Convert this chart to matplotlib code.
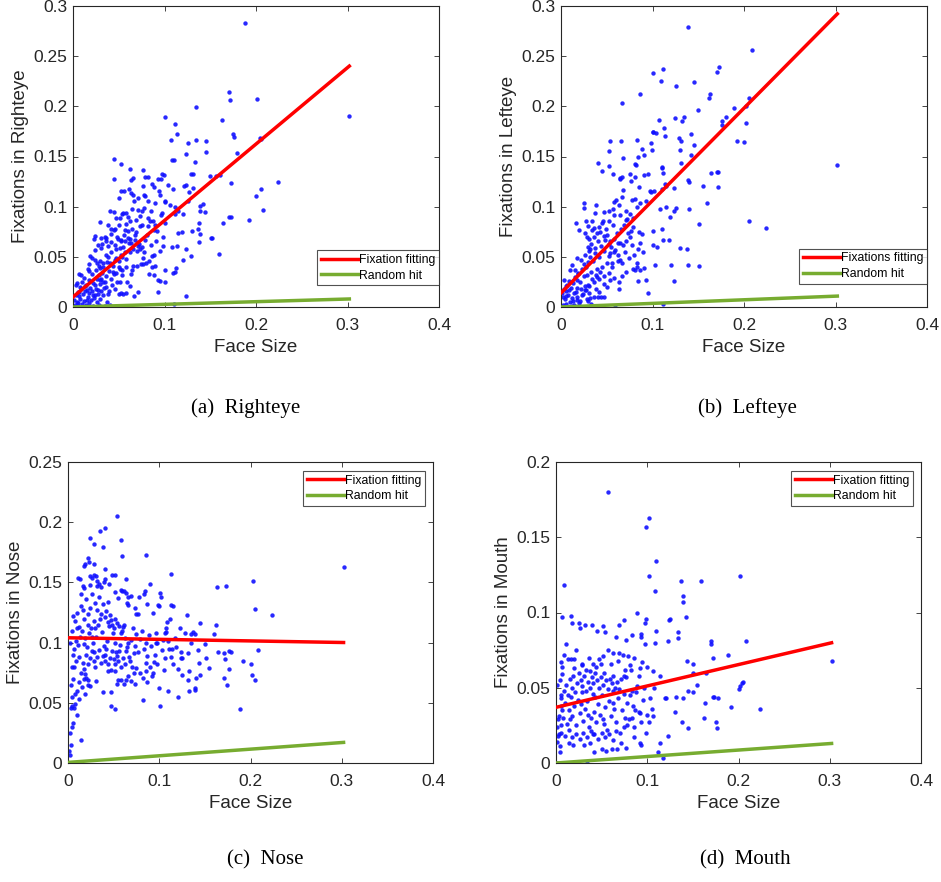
import numpy as np
import matplotlib.pyplot as plt
from matplotlib.ticker import FuncFormatter

# Fixation share per face region vs. face size (one dot per image)
righteye_pts = np.array([
    (0.188, 0.283), (0.302, 0.190), (0.170, 0.214), (0.172, 0.206), (0.201, 0.207), (0.134, 0.199),
    (0.101, 0.189), (0.112, 0.182), (0.114, 0.172), (0.163, 0.186), (0.175, 0.172), (0.176, 0.169),
    (0.179, 0.153), (0.204, 0.168), (0.205, 0.167), (0.224, 0.125), (0.173, 0.124), (0.205, 0.118),
    (0.200, 0.111), (0.208, 0.097), (0.192, 0.087), (0.170, 0.090), (0.173, 0.090), (0.164, 0.084),
    (0.160, 0.053), (0.123, 0.011), (0.110, 0.003), (0.107, 0.166), (0.108, 0.147), (0.110, 0.147),
    (0.124, 0.152), (0.126, 0.163), (0.134, 0.166), (0.145, 0.165), (0.145, 0.154), (0.133, 0.145),
    (0.129, 0.133), (0.131, 0.133), (0.150, 0.131), (0.156, 0.131), (0.161, 0.132), (0.121, 0.121),
    (0.124, 0.122), (0.127, 0.115), (0.131, 0.119), (0.126, 0.106), (0.142, 0.103), (0.139, 0.101),
    (0.139, 0.096), (0.144, 0.095), (0.138, 0.084), (0.137, 0.078), (0.139, 0.073), (0.138, 0.065),
    (0.130, 0.076), (0.119, 0.075), (0.115, 0.074), (0.114, 0.061), (0.123, 0.058), (0.129, 0.051),
    (0.151, 0.069), (0.152, 0.069), (0.120, 0.047), (0.113, 0.039), (0.109, 0.034), (0.111, 0.035),
    (0.100, 0.037), (0.101, 0.025), (0.093, 0.015), (0.095, 0.026), (0.108, 0.060), (0.098, 0.061),
    (0.098, 0.070), (0.092, 0.076), (0.101, 0.084), (0.097, 0.094), (0.096, 0.092), (0.101, 0.106),
    (0.101, 0.105), (0.106, 0.102), (0.111, 0.100), (0.111, 0.093), (0.115, 0.096), (0.120, 0.093),
    (0.095, 0.112), (0.104, 0.122), (0.109, 0.118), (0.097, 0.133), (0.099, 0.132), (0.096, 0.128),
    (0.093, 0.128), (0.086, 0.123), (0.082, 0.130), (0.079, 0.130), (0.076, 0.137), (0.066, 0.129),
    (0.063, 0.127), (0.077, 0.121), (0.078, 0.112), (0.079, 0.111), (0.082, 0.106), (0.067, 0.106),
    (0.061, 0.118), (0.063, 0.114), (0.056, 0.116), (0.053, 0.116), (0.062, 0.138), (0.045, 0.128),
    (0.045, 0.148), (0.053, 0.143), (0.050, 0.109), (0.040, 0.096), (0.045, 0.095), (0.054, 0.093),
    (0.058, 0.094), (0.047, 0.089), (0.051, 0.089), (0.065, 0.098), (0.071, 0.097), (0.075, 0.096),
    (0.082, 0.089), (0.084, 0.086), (0.087, 0.086), (0.090, 0.082), (0.082, 0.081), (0.088, 0.077),
    (0.073, 0.081), (0.069, 0.075), (0.068, 0.067), (0.057, 0.077), (0.060, 0.076), (0.042, 0.078),
    (0.045, 0.077), (0.038, 0.082), (0.029, 0.085), (0.035, 0.070), (0.031, 0.069), (0.024, 0.071),
    (0.023, 0.068), (0.036, 0.066), (0.049, 0.068), (0.053, 0.067), (0.057, 0.066), (0.062, 0.068),
    (0.063, 0.064), (0.071, 0.061), (0.075, 0.060), (0.073, 0.058), (0.078, 0.055), (0.086, 0.051),
    (0.080, 0.044), (0.074, 0.043), (0.077, 0.043), (0.070, 0.041), (0.083, 0.033), (0.086, 0.040),
    (0.090, 0.041), (0.088, 0.032), (0.093, 0.027), (0.066, 0.041), (0.065, 0.037), (0.063, 0.033),
    (0.059, 0.025), (0.062, 0.021), (0.058, 0.014), (0.071, 0.015), (0.067, 0.011), (0.053, 0.014),
    (0.055, 0.013), (0.048, 0.025), (0.051, 0.025), (0.044, 0.035), (0.045, 0.033), (0.051, 0.038),
    (0.054, 0.037), (0.058, 0.040), (0.046, 0.047), (0.050, 0.046), (0.054, 0.050), (0.057, 0.055),
    (0.051, 0.059), (0.047, 0.058), (0.042, 0.055), (0.038, 0.050), (0.033, 0.044), (0.028, 0.041),
    (0.029, 0.039), (0.024, 0.047), (0.026, 0.044), (0.019, 0.051), (0.021, 0.049), (0.018, 0.043),
    (0.016, 0.038), (0.009, 0.032), (0.007, 0.033), (0.003, 0.022), (0.029, 0.027), (0.031, 0.028),
    (0.035, 0.025), (0.036, 0.020), (0.039, 0.016), (0.033, 0.012), (0.037, 0.005), (0.040, 0.002),
    (0.035, 0.001), (0.027, 0.017), (0.024, 0.022), (0.022, 0.012), (0.015, 0.017), (0.013, 0.021),
    (0.010, 0.025), (0.007, 0.015), (0.002, 0.002), (0.004, 0.005), (0.006, 0.001), (0.008, 0.008),
    (0.010, 0.003), (0.012, 0.006), (0.014, 0.002), (0.016, 0.010), (0.018, 0.004), (0.020, 0.007),
    (0.022, 0.001), (0.024, 0.012), (0.026, 0.005), (0.003, 0.012), (0.005, 0.015), (0.009, 0.018),
    (0.011, 0.013), (0.013, 0.016), (0.015, 0.007), (0.017, 0.014), (0.019, 0.019), (0.021, 0.016),
    (0.023, 0.009), (0.025, 0.018), (0.027, 0.013), (0.029, 0.008), (0.001, 0.007), (0.007, 0.011),
    (0.001, 0.000), (0.003, 0.000), (0.006, 0.004), (0.011, 0.000), (0.016, 0.000), (0.020, 0.000),
    (0.028, 0.002), (0.031, 0.016), (0.034, 0.019), (0.030, 0.023), (0.026, 0.028), (0.022, 0.024),
    (0.018, 0.027), (0.014, 0.022), (0.012, 0.029), (0.008, 0.020), (0.004, 0.024), (0.028, 0.032),
    (0.032, 0.034), (0.036, 0.031), (0.039, 0.036), (0.042, 0.028), (0.044, 0.041), (0.040, 0.044),
    (0.033, 0.040), (0.029, 0.046), (0.025, 0.037), (0.021, 0.033), (0.017, 0.036), (0.024, 0.057),
    (0.027, 0.062), (0.031, 0.059), (0.036, 0.052), (0.038, 0.061), (0.042, 0.065), (0.046, 0.062),
    (0.048, 0.070), (0.052, 0.066), (0.056, 0.072), (0.060, 0.069), (0.064, 0.078), (0.068, 0.072),
    (0.072, 0.063), (0.066, 0.058), (0.062, 0.055), (0.058, 0.048), (0.052, 0.052), (0.047, 0.049),
    (0.050, 0.040), (0.054, 0.032), (0.047, 0.034), (0.043, 0.022), (0.046, 0.018), (0.050, 0.013),
    (0.038, 0.013), (0.033, 0.025), (0.037, 0.045), (0.055, 0.060), (0.061, 0.064), (0.070, 0.056),
    (0.079, 0.067), (0.085, 0.062), (0.091, 0.066), (0.095, 0.056), (0.088, 0.052), (0.083, 0.046),
    (0.076, 0.049), (0.081, 0.072), (0.075, 0.082), (0.069, 0.087), (0.062, 0.086), (0.058, 0.083),
    (0.050, 0.082), (0.046, 0.078), (0.041, 0.073), (0.036, 0.069), (0.032, 0.063), (0.055, 0.094),
    (0.060, 0.090), (0.066, 0.112), (0.071, 0.109), (0.085, 0.096), (0.090, 0.104), (0.094, 0.116),
    (0.088, 0.120), (0.078, 0.099), (0.073, 0.091),
])

lefteye_pts = np.array([
    (0.139, 0.279), (0.209, 0.256), (0.173, 0.239), (0.171, 0.234), (0.111, 0.237), (0.101, 0.233),
    (0.109, 0.225), (0.145, 0.224), (0.126, 0.220), (0.086, 0.212), (0.163, 0.212), (0.162, 0.208),
    (0.205, 0.208), (0.202, 0.200), (0.067, 0.203), (0.150, 0.196), (0.189, 0.198), (0.180, 0.189),
    (0.176, 0.185), (0.176, 0.181), (0.134, 0.189), (0.132, 0.185), (0.125, 0.188), (0.107, 0.186),
    (0.113, 0.178), (0.114, 0.170), (0.100, 0.174), (0.101, 0.174), (0.104, 0.173), (0.202, 0.183),
    (0.142, 0.172), (0.129, 0.168), (0.131, 0.165), (0.192, 0.165), (0.200, 0.164), (0.145, 0.161),
    (0.130, 0.156), (0.083, 0.166), (0.066, 0.165), (0.054, 0.165), (0.098, 0.163), (0.099, 0.156),
    (0.089, 0.157), (0.091, 0.151), (0.084, 0.150), (0.081, 0.143), (0.082, 0.142), (0.068, 0.149),
    (0.052, 0.155), (0.040, 0.144), (0.052, 0.141), (0.045, 0.136), (0.057, 0.133), (0.064, 0.129),
    (0.065, 0.128), (0.067, 0.130), (0.075, 0.133), (0.081, 0.130), (0.095, 0.133), (0.091, 0.132),
    (0.111, 0.134), (0.110, 0.140), (0.110, 0.139), (0.131, 0.144), (0.142, 0.151), (0.164, 0.134),
    (0.170, 0.135), (0.172, 0.135), (0.139, 0.127), (0.140, 0.125), (0.155, 0.121), (0.172, 0.120),
    (0.124, 0.119), (0.115, 0.121), (0.114, 0.123), (0.110, 0.118), (0.102, 0.116), (0.097, 0.116),
    (0.098, 0.115), (0.085, 0.120), (0.076, 0.126), (0.068, 0.117), (0.078, 0.107), (0.081, 0.108),
    (0.086, 0.104), (0.093, 0.106), (0.160, 0.104), (0.108, 0.098), (0.115, 0.100), (0.126, 0.099),
    (0.140, 0.098), (0.119, 0.090), (0.123, 0.096), (0.151, 0.083), (0.206, 0.086), (0.224, 0.079),
    (0.302, 0.142), (0.110, 0.078), (0.100, 0.076), (0.112, 0.067), (0.118, 0.067), (0.101, 0.062),
    (0.105, 0.060), (0.130, 0.059), (0.138, 0.058), (0.120, 0.042), (0.139, 0.042), (0.151, 0.041),
    (0.103, 0.042), (0.093, 0.027), (0.124, 0.026), (0.095, 0.014), (0.084, 0.026), (0.086, 0.037),
    (0.091, 0.039), (0.079, 0.038), (0.081, 0.037), (0.083, 0.044), (0.083, 0.040), (0.090, 0.055),
    (0.086, 0.064), (0.088, 0.073), (0.085, 0.075), (0.077, 0.076), (0.073, 0.074), (0.079, 0.080),
    (0.072, 0.088), (0.071, 0.087), (0.064, 0.092), (0.058, 0.092), (0.057, 0.098), (0.058, 0.105),
    (0.060, 0.107), (0.052, 0.096), (0.047, 0.095), (0.046, 0.086), (0.038, 0.102), (0.034, 0.086),
    (0.037, 0.094), (0.027, 0.086), (0.029, 0.081), (0.025, 0.104), (0.025, 0.099), (0.016, 0.084),
    (0.020, 0.077), (0.026, 0.074), (0.028, 0.070), (0.031, 0.068), (0.034, 0.077), (0.036, 0.079),
    (0.039, 0.074), (0.043, 0.075), (0.047, 0.071), (0.050, 0.072), (0.054, 0.066), (0.058, 0.068),
    (0.062, 0.064), (0.064, 0.064), (0.068, 0.062), (0.071, 0.066), (0.059, 0.057), (0.054, 0.054),
    (0.052, 0.051), (0.047, 0.056), (0.042, 0.050), (0.037, 0.054), (0.032, 0.058), (0.031, 0.056),
    (0.026, 0.052), (0.022, 0.047), (0.017, 0.049), (0.012, 0.042), (0.010, 0.037), (0.015, 0.037),
    (0.019, 0.034), (0.025, 0.031), (0.028, 0.032), (0.033, 0.035), (0.038, 0.032), (0.042, 0.028),
    (0.047, 0.023), (0.050, 0.020), (0.054, 0.027), (0.058, 0.029), (0.063, 0.025), (0.063, 0.018),
    (0.067, 0.031), (0.071, 0.035), (0.067, 0.044), (0.062, 0.046), (0.056, 0.044), (0.050, 0.044),
    (0.045, 0.040), (0.039, 0.038), (0.036, 0.025), (0.031, 0.021), (0.027, 0.017), (0.023, 0.012),
    (0.032, 0.009), (0.036, 0.010), (0.040, 0.010), (0.044, 0.010), (0.047, 0.010), (0.033, 0.003),
    (0.029, 0.006), (0.021, 0.006), (0.018, 0.007), (0.014, 0.014), (0.009, 0.017), (0.005, 0.021),
    (0.003, 0.027), (0.111, 0.003), (0.059, 0.000), (0.002, 0.002), (0.004, 0.008), (0.006, 0.003),
    (0.008, 0.012), (0.010, 0.005), (0.012, 0.009), (0.014, 0.002), (0.016, 0.015), (0.018, 0.010),
    (0.020, 0.004), (0.022, 0.018), (0.024, 0.013), (0.026, 0.021), (0.028, 0.008), (0.001, 0.014),
    (0.003, 0.018), (0.005, 0.011), (0.007, 0.022), (0.009, 0.026), (0.011, 0.019), (0.013, 0.024),
    (0.015, 0.030), (0.017, 0.027), (0.019, 0.033), (0.021, 0.025), (0.023, 0.038), (0.025, 0.043),
    (0.027, 0.040), (0.030, 0.045), (0.032, 0.050), (0.035, 0.046), (0.029, 0.060), (0.033, 0.063),
    (0.037, 0.059), (0.040, 0.066), (0.044, 0.061), (0.048, 0.067), (0.052, 0.063), (0.055, 0.060),
    (0.058, 0.055), (0.062, 0.052), (0.065, 0.047), (0.056, 0.040), (0.052, 0.034), (0.047, 0.031),
    (0.043, 0.035), (0.039, 0.030), (0.034, 0.028), (0.030, 0.022), (0.026, 0.017), (0.004, 0.000),
    (0.008, 0.000), (0.012, 0.001), (0.016, 0.000), (0.020, 0.001), (0.013, 0.006), (0.018, 0.019),
    (0.006, 0.016), (0.002, 0.010), (0.031, 0.014), (0.038, 0.018), (0.042, 0.015), (0.036, 0.070),
    (0.041, 0.080), (0.045, 0.084), (0.049, 0.078), (0.053, 0.086), (0.057, 0.082), (0.061, 0.074),
    (0.066, 0.078), (0.069, 0.082), (0.075, 0.070), (0.078, 0.062), (0.070, 0.055), (0.074, 0.049),
    (0.080, 0.052), (0.084, 0.058), (0.063, 0.102), (0.067, 0.110), (0.071, 0.096), (0.075, 0.093),
    (0.079, 0.089), (0.083, 0.100),
])

nose_pts = np.array([
    (0.054, 0.205), (0.041, 0.195), (0.035, 0.193), (0.058, 0.185), (0.024, 0.187), (0.029, 0.182),
    (0.038, 0.179), (0.059, 0.172), (0.085, 0.173), (0.113, 0.157), (0.302, 0.163), (0.203, 0.151),
    (0.163, 0.146), (0.173, 0.147), (0.022, 0.170), (0.023, 0.167), (0.019, 0.165), (0.017, 0.164),
    (0.028, 0.165), (0.041, 0.161), (0.048, 0.156), (0.051, 0.156), (0.064, 0.153), (0.011, 0.154),
    (0.013, 0.153), (0.016, 0.147), (0.024, 0.155), (0.026, 0.154), (0.028, 0.156), (0.031, 0.155),
    (0.032, 0.151), (0.034, 0.149), (0.032, 0.147), (0.039, 0.150), (0.041, 0.153), (0.045, 0.149),
    (0.090, 0.149), (0.101, 0.141), (0.102, 0.138), (0.084, 0.143), (0.083, 0.140), (0.078, 0.138),
    (0.069, 0.139), (0.064, 0.141), (0.066, 0.138), (0.061, 0.143), (0.058, 0.144), (0.059, 0.143),
    (0.052, 0.142), (0.055, 0.137), (0.065, 0.133), (0.066, 0.131), (0.073, 0.129), (0.075, 0.124),
    (0.077, 0.124), (0.087, 0.132), (0.099, 0.131), (0.100, 0.130), (0.113, 0.131), (0.115, 0.130),
    (0.093, 0.125), (0.130, 0.123), (0.224, 0.123), (0.205, 0.128), (0.145, 0.116), (0.162, 0.115),
    (0.160, 0.107), (0.137, 0.109), (0.139, 0.107), (0.135, 0.107), (0.123, 0.112), (0.112, 0.120),
    (0.108, 0.117), (0.107, 0.112), (0.107, 0.109), (0.096, 0.108), (0.106, 0.108), (0.117, 0.104),
    (0.096, 0.100), (0.104, 0.102), (0.111, 0.095), (0.114, 0.095), (0.113, 0.088), (0.124, 0.087),
    (0.125, 0.087), (0.131, 0.091), (0.144, 0.083), (0.151, 0.087), (0.164, 0.092), (0.171, 0.091),
    (0.176, 0.093), (0.179, 0.092), (0.208, 0.094), (0.192, 0.085), (0.200, 0.082), (0.172, 0.086),
    (0.176, 0.078), (0.171, 0.071), (0.174, 0.065), (0.202, 0.073), (0.205, 0.069), (0.155, 0.079),
    (0.145, 0.073), (0.140, 0.071), (0.133, 0.076), (0.125, 0.073), (0.120, 0.078), (0.132, 0.069),
    (0.139, 0.062), (0.139, 0.061), (0.133, 0.060), (0.120, 0.055), (0.110, 0.060), (0.100, 0.062),
    (0.105, 0.077), (0.097, 0.082), (0.094, 0.084), (0.093, 0.075), (0.092, 0.072), (0.086, 0.076),
    (0.087, 0.067), (0.082, 0.071), (0.079, 0.075), (0.074, 0.079), (0.072, 0.075), (0.069, 0.068),
    (0.073, 0.066), (0.064, 0.069), (0.066, 0.072), (0.061, 0.066), (0.058, 0.069), (0.055, 0.069),
    (0.054, 0.066), (0.052, 0.076), (0.047, 0.077), (0.044, 0.076), (0.047, 0.059), (0.038, 0.059),
    (0.047, 0.047), (0.051, 0.045), (0.082, 0.052), (0.101, 0.047), (0.188, 0.045), (0.014, 0.019),
    (0.031, 0.068), (0.020, 0.071), (0.022, 0.069), (0.022, 0.065), (0.024, 0.064), (0.019, 0.057),
    (0.012, 0.053), (0.008, 0.049), (0.004, 0.047), (0.007, 0.046), (0.010, 0.040), (0.005, 0.033),
    (0.004, 0.030), (0.002, 0.025), (0.003, 0.015), (0.001, 0.010), (0.002, 0.007), (0.004, 0.055),
    (0.003, 0.046), (0.005, 0.090), (0.007, 0.095), (0.009, 0.101), (0.011, 0.098), (0.013, 0.105),
    (0.015, 0.110), (0.017, 0.099), (0.019, 0.104), (0.021, 0.096), (0.023, 0.108), (0.025, 0.112),
    (0.027, 0.100), (0.029, 0.092), (0.031, 0.105), (0.033, 0.115), (0.035, 0.120), (0.037, 0.109),
    (0.039, 0.097), (0.041, 0.090), (0.043, 0.101), (0.045, 0.114), (0.047, 0.119), (0.049, 0.108),
    (0.051, 0.100), (0.053, 0.092), (0.055, 0.085), (0.057, 0.098), (0.059, 0.110), (0.061, 0.115),
    (0.063, 0.104), (0.065, 0.096), (0.067, 0.088), (0.069, 0.102), (0.071, 0.112), (0.073, 0.097),
    (0.075, 0.107), (0.077, 0.092), (0.079, 0.103), (0.081, 0.110), (0.083, 0.095), (0.085, 0.100),
    (0.087, 0.089), (0.089, 0.106), (0.091, 0.097), (0.006, 0.122), (0.008, 0.118), (0.010, 0.125),
    (0.012, 0.113), (0.014, 0.130), (0.016, 0.127), (0.018, 0.120), (0.020, 0.136), (0.022, 0.124),
    (0.024, 0.129), (0.026, 0.140), (0.028, 0.118), (0.030, 0.133), (0.032, 0.127), (0.034, 0.138),
    (0.036, 0.124), (0.038, 0.132), (0.040, 0.121), (0.042, 0.126), (0.044, 0.117), (0.046, 0.123),
    (0.048, 0.115), (0.050, 0.112), (0.052, 0.120), (0.054, 0.116), (0.056, 0.114), (0.058, 0.108),
    (0.060, 0.113), (0.007, 0.080), (0.009, 0.085), (0.012, 0.088), (0.014, 0.075), (0.016, 0.083),
    (0.018, 0.078), (0.020, 0.090), (0.022, 0.082), (0.024, 0.087), (0.026, 0.093), (0.028, 0.085),
    (0.030, 0.080), (0.032, 0.088), (0.034, 0.094), (0.036, 0.083), (0.038, 0.089), (0.040, 0.085),
    (0.042, 0.095), (0.044, 0.082), (0.046, 0.087), (0.048, 0.093), (0.050, 0.086), (0.052, 0.082),
    (0.054, 0.089), (0.056, 0.093), (0.058, 0.080), (0.060, 0.087), (0.062, 0.082), (0.064, 0.093),
    (0.066, 0.100), (0.068, 0.085), (0.070, 0.080), (0.072, 0.091), (0.010, 0.060), (0.012, 0.067),
    (0.006, 0.070), (0.004, 0.080), (0.003, 0.065), (0.008, 0.057), (0.015, 0.063), (0.017, 0.070),
    (0.019, 0.074), (0.026, 0.105), (0.030, 0.112), (0.002, 0.100), (0.004, 0.110), (0.010, 0.112),
    (0.022, 0.115), (0.014, 0.140), (0.018, 0.145), (0.024, 0.148), (0.036, 0.146), (0.044, 0.134),
    (0.098, 0.100), (0.103, 0.094), (0.095, 0.090), (0.110, 0.101), (0.118, 0.096), (0.124, 0.092),
    (0.106, 0.087), (0.090, 0.080), (0.085, 0.083), (0.115, 0.082), (0.128, 0.108), (0.135, 0.100),
    (0.142, 0.094), (0.150, 0.099),
])

mouth_pts = np.array([
    (0.057, 0.180), (0.102, 0.163), (0.099, 0.157), (0.110, 0.134), (0.009, 0.118), (0.102, 0.124),
    (0.137, 0.121), (0.159, 0.121), (0.202, 0.124), (0.109, 0.114), (0.139, 0.111), (0.139, 0.107),
    (0.142, 0.097), (0.125, 0.096), (0.124, 0.095), (0.089, 0.100), (0.099, 0.096), (0.097, 0.093),
    (0.110, 0.088), (0.134, 0.087), (0.134, 0.083), (0.123, 0.081), (0.108, 0.080), (0.170, 0.081),
    (0.170, 0.079), (0.208, 0.081), (0.188, 0.072), (0.172, 0.070), (0.302, 0.068), (0.144, 0.068),
    (0.150, 0.066), (0.150, 0.060), (0.164, 0.060), (0.155, 0.052), (0.205, 0.054), (0.204, 0.053),
    (0.202, 0.051), (0.200, 0.049), (0.145, 0.048), (0.150, 0.047), (0.172, 0.044), (0.173, 0.044),
    (0.178, 0.043), (0.163, 0.040), (0.192, 0.037), (0.224, 0.036), (0.130, 0.034), (0.138, 0.027),
    (0.145, 0.023), (0.175, 0.027), (0.176, 0.023), (0.162, 0.030), (0.123, 0.018), (0.114, 0.013),
    (0.112, 0.007), (0.117, 0.003), (0.034, 0.000), (0.001, 0.000), (0.007, 0.097), (0.016, 0.098),
    (0.017, 0.093), (0.025, 0.093), (0.026, 0.090), (0.032, 0.092), (0.039, 0.092), (0.045, 0.088),
    (0.051, 0.091), (0.054, 0.087), (0.066, 0.084), (0.069, 0.092), (0.075, 0.095), (0.077, 0.082),
    (0.083, 0.085), (0.093, 0.086), (0.093, 0.084), (0.098, 0.079), (0.011, 0.079), (0.022, 0.075),
    (0.009, 0.072), (0.006, 0.067), (0.007, 0.064), (0.013, 0.069), (0.016, 0.069), (0.020, 0.069),
    (0.028, 0.065), (0.033, 0.062), (0.037, 0.061), (0.041, 0.066), (0.047, 0.069), (0.049, 0.066),
    (0.057, 0.075), (0.063, 0.073), (0.069, 0.073), (0.073, 0.072), (0.079, 0.071), (0.085, 0.070),
    (0.094, 0.067), (0.081, 0.065), (0.082, 0.062), (0.074, 0.058), (0.077, 0.057), (0.091, 0.058),
    (0.092, 0.063), (0.100, 0.064), (0.106, 0.061), (0.114, 0.058), (0.107, 0.050), (0.119, 0.043),
    (0.120, 0.043), (0.131, 0.044), (0.139, 0.043), (0.103, 0.043), (0.095, 0.042), (0.089, 0.051),
    (0.083, 0.048), (0.087, 0.035), (0.091, 0.034), (0.083, 0.030), (0.078, 0.025), (0.086, 0.024),
    (0.093, 0.027), (0.102, 0.027), (0.106, 0.031), (0.100, 0.032), (0.105, 0.036), (0.092, 0.013),
    (0.093, 0.012), (0.099, 0.020), (0.085, 0.017), (0.077, 0.010), (0.071, 0.013), (0.067, 0.009),
    (0.061, 0.009), (0.055, 0.008), (0.050, 0.009), (0.042, 0.007), (0.040, 0.019), (0.037, 0.013),
    (0.031, 0.012), (0.019, 0.012), (0.014, 0.013), (0.004, 0.007), (0.004, 0.011), (0.001, 0.014),
    (0.003, 0.019), (0.002, 0.018), (0.005, 0.025), (0.001, 0.024), (0.003, 0.031), (0.002, 0.029),
    (0.005, 0.038), (0.005, 0.045), (0.005, 0.043), (0.001, 0.052), (0.004, 0.055), (0.007, 0.059),
    (0.008, 0.030), (0.010, 0.040), (0.012, 0.026), (0.014, 0.035), (0.016, 0.044), (0.018, 0.031),
    (0.020, 0.038), (0.022, 0.025), (0.024, 0.042), (0.026, 0.033), (0.028, 0.047), (0.030, 0.028),
    (0.032, 0.036), (0.034, 0.041), (0.036, 0.024), (0.038, 0.030), (0.040, 0.046), (0.042, 0.034),
    (0.044, 0.027), (0.046, 0.039), (0.048, 0.032), (0.050, 0.045), (0.052, 0.029), (0.054, 0.037),
    (0.056, 0.022), (0.058, 0.041), (0.060, 0.031), (0.062, 0.048), (0.064, 0.036), (0.066, 0.027),
    (0.068, 0.043), (0.070, 0.020), (0.072, 0.035), (0.074, 0.046), (0.076, 0.030), (0.078, 0.040),
    (0.080, 0.029), (0.009, 0.048), (0.011, 0.052), (0.013, 0.045), (0.015, 0.056), (0.017, 0.050),
    (0.019, 0.058), (0.021, 0.047), (0.023, 0.053), (0.025, 0.060), (0.027, 0.055), (0.029, 0.051),
    (0.031, 0.058), (0.033, 0.048), (0.035, 0.054), (0.037, 0.050), (0.039, 0.057), (0.041, 0.053),
    (0.043, 0.060), (0.045, 0.055), (0.047, 0.050), (0.049, 0.057), (0.051, 0.052), (0.053, 0.060),
    (0.055, 0.055), (0.057, 0.049), (0.059, 0.056), (0.061, 0.053), (0.063, 0.058), (0.065, 0.050),
    (0.067, 0.054), (0.069, 0.049), (0.071, 0.056), (0.006, 0.020), (0.010, 0.018), (0.014, 0.022),
    (0.018, 0.017), (0.022, 0.019), (0.026, 0.016), (0.030, 0.020), (0.034, 0.017), (0.038, 0.021),
    (0.042, 0.019), (0.046, 0.016), (0.050, 0.020), (0.054, 0.017), (0.058, 0.019), (0.062, 0.015),
    (0.066, 0.021), (0.007, 0.035), (0.015, 0.029), (0.027, 0.039), (0.035, 0.032), (0.043, 0.044),
    (0.053, 0.026), (0.063, 0.040), (0.075, 0.024), (0.081, 0.045), (0.084, 0.038), (0.088, 0.047),
    (0.092, 0.033), (0.096, 0.050), (0.020, 0.063), (0.028, 0.066), (0.036, 0.070), (0.044, 0.064),
    (0.052, 0.071), (0.060, 0.066), (0.068, 0.068), (0.076, 0.062),
])

# Fitted line (intercept, slope) and the random-hit baseline for each region
fit_coef = {"Righteye": (0.010, 0.762), "Lefteye": (0.014, 0.921),
            "Nose": (0.104, -0.013), "Mouth": (0.037, 0.142)}
random_coef = {"Righteye": (0.0, 0.0265), "Lefteye": (0.0, 0.036),
               "Nose": (0.0005, 0.055), "Mouth": (0.0, 0.043)}
face_size_range = np.array([0.0, 0.302])

regions = ["Righteye", "Lefteye", "Nose", "Mouth"]
points = {"Righteye": righteye_pts, "Lefteye": lefteye_pts, "Nose": nose_pts, "Mouth": mouth_pts}
y_max = {"Righteye": 0.3, "Lefteye": 0.3, "Nose": 0.25, "Mouth": 0.2}
fit_labels = {"Righteye": "Fixation fitting", "Lefteye": "Fixations fitting",
              "Nose": "Fixation fitting", "Mouth": "Fixation fitting"}
captions = ["(a)  Righteye", "(b)  Lefteye", "(c)  Nose", "(d)  Mouth"]

W, H = 941, 882
# axes boxes in pixels: left, top, right, bottom
boxes = {"Righteye": (73, 6, 439, 307), "Lefteye": (561, 6, 927, 307),
         "Nose": (68, 462, 433, 763), "Mouth": (556, 462, 921, 763)}
legend_anchor = {"Righteye": ("lower right", (1.0, 0.072)), "Lefteye": ("lower right", (1.0, 0.077)),
                 "Nose": ("upper right", (0.978, 0.970)), "Mouth": ("upper right", (0.978, 0.970))}
caption_xy = [(246, 408), (747, 408), (265, 860), (745, 860)]

INK = "#262626"
plt.rcParams["font.family"] = ["Liberation Sans", "DejaVu Sans"]

fig = plt.figure(figsize=(W / 100, H / 100), dpi=100)

for region in regions:
    l, t, r, b = boxes[region]
    ax = fig.add_axes([l / W, 1 - b / H, (r - l) / W, (b - t) / H])
    pts = points[region]
    ax.scatter(pts[:, 0], pts[:, 1], s=10, color="#1010ff", alpha=0.9, linewidths=0, zorder=2)
    a, k = fit_coef[region]
    ax.plot(face_size_range, a + k * face_size_range, color="#ff0000", lw=2.5,
            label=fit_labels[region], zorder=3)
    a, k = random_coef[region]
    ax.plot(face_size_range, a + k * face_size_range, color="#77ac30", lw=2.5,
            label="Random hit", zorder=3)

    ax.set_xlim(0, 0.4)
    ax.set_ylim(0, y_max[region])
    ax.set_xticks(np.arange(0, 0.41, 0.1))
    ax.set_yticks(np.arange(0, y_max[region] + 1e-9, 0.05))
    fmt = FuncFormatter(lambda v, _: f"{v:g}")
    ax.xaxis.set_major_formatter(fmt)
    ax.yaxis.set_major_formatter(fmt)
    ax.tick_params(direction="in", length=3.5, width=0.6, top=True, right=True,
                   labelsize=12.5, colors=INK)
    ax.tick_params(axis="x", pad=8)
    ax.tick_params(axis="y", pad=4)
    for sp in ax.spines.values():
        sp.set_color(INK)
        sp.set_linewidth(0.8)
    ax.set_xlabel("Face Size", fontsize=13.5, color=INK, labelpad=4)
    ax.set_ylabel(f"Fixations in {region}", fontsize=13.5, color=INK, labelpad=3)

    loc, anchor = legend_anchor[region]
    leg = ax.legend(loc=loc, bbox_to_anchor=anchor, fontsize=8.8, frameon=True, fancybox=False,
                    handlelength=3.0, handletextpad=0.1, borderpad=0.3, labelspacing=0.3,
                    borderaxespad=0.0)
    leg.get_frame().set_edgecolor("#262626")
    leg.get_frame().set_linewidth(0.8)

for text, (cx, cy) in zip(captions, caption_xy):
    fig.text(cx / W, 1 - cy / H, text, ha="center", va="center", fontsize=15,
             family="Liberation Serif", color="black")

fig.savefig("out.png", dpi=100)
